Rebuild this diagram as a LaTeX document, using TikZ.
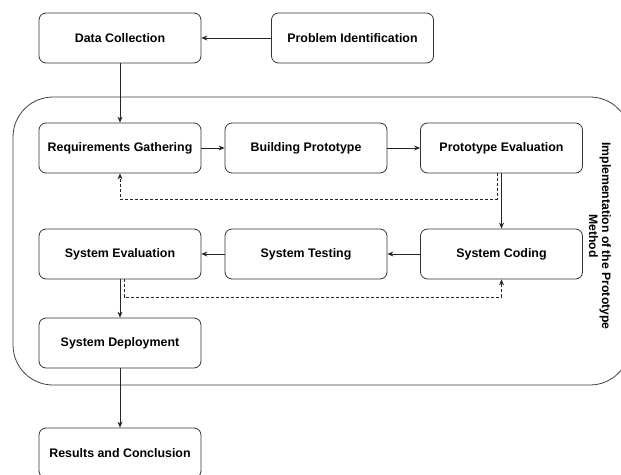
\documentclass[tikz,border=0pt]{standalone}
\usepackage{fontspec}
\setmainfont{Liberation Sans}
\usetikzlibrary{calc,arrows.meta}

\begin{document}
\begin{tikzpicture}[x=1pt,y=-1pt,
  procbox/.style={draw=black!80,line width=0.8pt,rounded corners=7pt,minimum width=162pt,minimum height=50pt,inner sep=0pt,font=\fontsize{12.4}{14}\selectfont\bfseries},
  flow/.style={draw=black!85,line width=0.8pt,-{Stealth[length=6pt,width=5pt]}},
  backflow/.style={flow,dash pattern=on 3pt off 2pt}]

\useasboundingbox (0,0) rectangle (621,474);
\clip (0,0) rectangle (621,474);

%Drawing the frame of the prototype method
\draw[draw=black!75,line width=0.8pt,rounded corners=40pt] (13,97) rectangle (630,385);
\node[rotate=-90,align=center,font=\fontsize{12.2}{13}\selectfont\bfseries] (protolabel) at (600,236) {Implementation of the Prototype\\Method};

%Drawing the boxes
\node[procbox] (datacol) at (120,38) {Data Collection};
\node[procbox] (probid) at (352.5,38) {Problem Identification};

\node[procbox] (reqgat) at (120,148) {Requirements Gathering};
\node[procbox] (buildproto) at (306,148) {Building Prototype};
\node[procbox] (protoeval) at (501.5,148) {Prototype Evaluation};

\node[procbox] (syseval) at (120,254) {System Evaluation};
\node[procbox] (systest) at (306,254) {System Testing};
\node[procbox] (syscode) at (501.5,254) {System Coding};

\node[procbox] (sysdeploy) at (120,343) {System Deployment};
\node[procbox] (results) at (120,453) {Results and Conclusion};

%connecting them
\draw[flow] (probid) -- (datacol);
\draw[flow] (datacol) -- (reqgat);
\draw[flow] (reqgat) -- (buildproto);
\draw[flow] (buildproto) -- (protoeval);
\draw[flow] (protoeval) -- (syscode);
\draw[flow] (syscode) -- (systest);
\draw[flow] (systest) -- (syseval);
\draw[flow] (syseval) -- (sysdeploy);
\draw[flow] (sysdeploy) -- (results);

%feedback loops
\coordinate (evalback) at (120,199);
\coordinate (codeback) at (501.5,297);
\draw[backflow] ([xshift=-4pt]protoeval.south) |- (evalback) -- (reqgat.south);
\draw[backflow] ([xshift=4pt]syseval.south) |- (codeback) -- (syscode.south);

\end{tikzpicture}
\end{document}
